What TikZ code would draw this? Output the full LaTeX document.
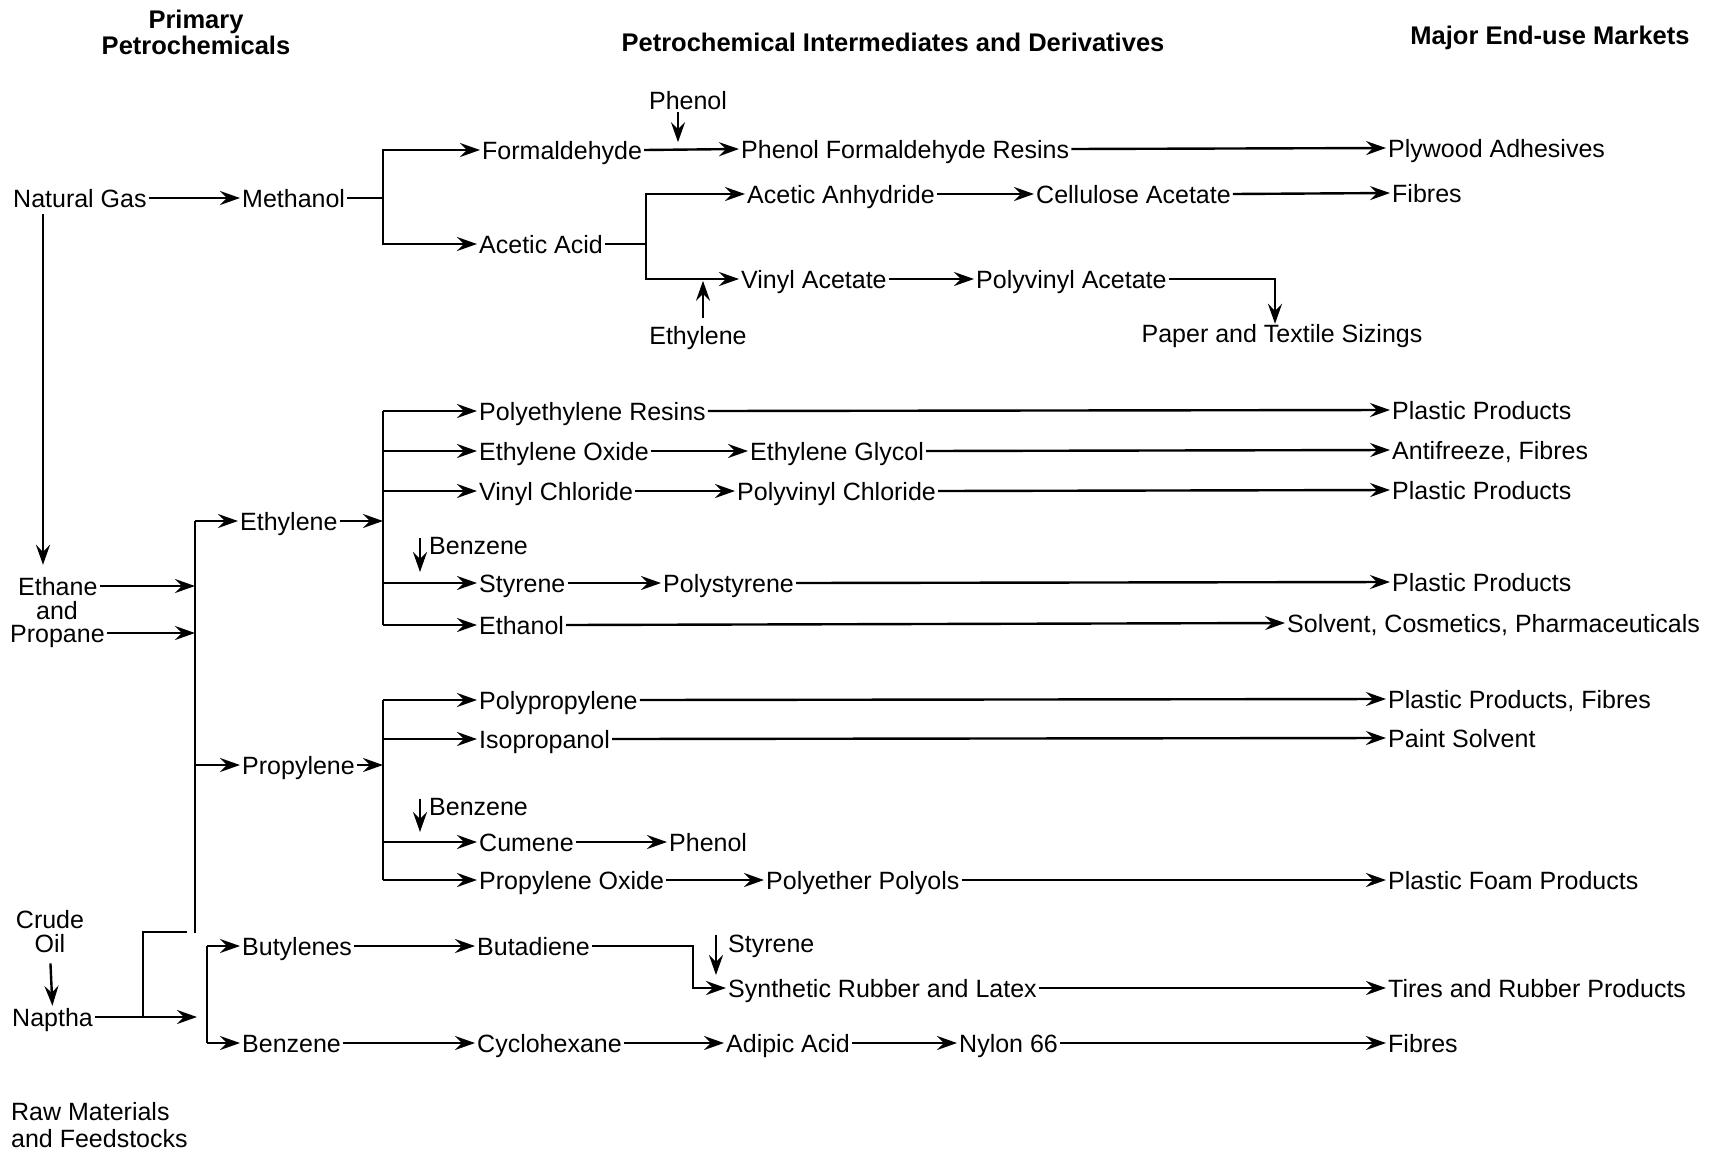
\documentclass[tikz,border=0pt]{standalone}
\usepackage{fontspec}
\setmainfont{Liberation Sans}
\usetikzlibrary{arrows.meta}
\newcommand\fsz{\fontsize{25}{24}\selectfont}
\newcommand\hsz{\fontsize{25.5}{26}\selectfont\bfseries}
\begin{document}
\begin{tikzpicture}[x=1pt,y=-1pt,
  lbl/.style={font=\fsz, anchor=west, inner xsep=2pt, inner ysep=0pt, text height=18pt, text depth=0pt},
  clbl/.style={font=\fsz, anchor=center, inner xsep=2pt, inner ysep=0pt, text height=18pt, text depth=0pt},
  mlbl/.style={font=\fsz, inner sep=0pt, align=center},
  hdr/.style={font=\hsz, inner sep=0pt, align=center},
  ln/.style={line width=2.4pt},
  arr/.style={line width=2.4pt, -{Stealth[length=20pt,width=14pt,inset=7pt]}},
]
\useasboundingbox (0,0) rectangle (1725,1152);

% headers
\node[hdr] (h1) at (196,32) {Primary\\Petrochemicals};
\node[hdr] (h2) at (893,42) {Petrochemical Intermediates and Derivatives};
\node[hdr] (h3) at (1550,38) {Major End-use Markets};

% methanol branch
\node[lbl] (natgas) at (11,198) {Natural Gas};
\node[lbl] (methanol) at (240,198) {Methanol};
\node[lbl] (form) at (480,150) {Formaldehyde};
\node[lbl] (acetic) at (477,244) {Acetic Acid};
\node[clbl] (phenolA) at (688,100) {Phenol};
\node[lbl] (pfr) at (739,149) {Phenol Formaldehyde Resins};
\node[lbl] (plywood) at (1386,148) {Plywood Adhesives};
\node[lbl] (anhyd) at (745,194) {Acetic Anhydride};
\node[lbl] (cellac) at (1034,194) {Cellulose Acetate};
\node[lbl] (fibresA) at (1390,193) {Fibres};
\node[lbl] (vinylac) at (739,279) {Vinyl Acetate};
\node[clbl] (ethyA) at (698,335) {Ethylene};
\node[lbl] (pva) at (974,279) {Polyvinyl Acetate};
\node[clbl] (sizing) at (1282,333) {Paper and Textile Sizings};

% raw materials
\node[lbl] (ethane) at (16,586) {Ethane};
\node[clbl] (andn) at (57,610) {and};
\node[lbl] (propane) at (8,633) {Propane};
\node[mlbl] (crude) at (50,932) {Crude\\Oil};
\node[lbl] (naptha) at (10,1017) {Naptha};
\node[font=\fontsize{25}{27}\selectfont, inner sep=0pt, align=left, anchor=west] (raw) at (11,1125) {Raw Materials\\and Feedstocks};

% ethylene branch
\node[lbl] (ethylene) at (238,521) {Ethylene};
\node[lbl] (pe) at (477,411) {Polyethylene Resins};
\node[lbl] (plasA) at (1390,410) {Plastic Products};
\node[lbl] (eo) at (477,451) {Ethylene Oxide};
\node[lbl] (eg) at (748,451) {Ethylene Glycol};
\node[lbl] (anti) at (1390,450) {Antifreeze, Fibres};
\node[lbl] (vc) at (477,491) {Vinyl Chloride};
\node[lbl] (pvc) at (735,491) {Polyvinyl Chloride};
\node[lbl] (plasB) at (1390,490) {Plastic Products};
\node[lbl] (benzA) at (427,545) {Benzene};
\node[lbl] (styrene) at (477,583) {Styrene};
\node[lbl] (ps) at (661,583) {Polystyrene};
\node[lbl] (plasC) at (1390,582) {Plastic Products};
\node[lbl] (ethanol) at (477,625) {Ethanol};
\node[lbl] (solvent) at (1285,623) {Solvent, Cosmetics, Pharmaceuticals};

% propylene branch
\node[lbl] (propylene) at (240,765) {Propylene};
\node[lbl] (pp) at (477,700) {Polypropylene};
\node[lbl] (ppf) at (1386,699) {Plastic Products, Fibres};
\node[lbl] (ipa) at (477,739) {Isopropanol};
\node[lbl] (paint) at (1386,738) {Paint Solvent};
\node[lbl] (benzB) at (427,806) {Benzene};
\node[lbl] (cumene) at (477,842) {Cumene};
\node[lbl] (phenolB) at (667,842) {Phenol};
\node[lbl] (po) at (477,880) {Propylene Oxide};
\node[lbl] (ppol) at (764,880) {Polyether Polyols};
\node[lbl] (foam) at (1386,880) {Plastic Foam Products};

% butylenes / benzene branch
\node[lbl] (butyl) at (240,946) {Butylenes};
\node[lbl] (benzC) at (240,1043) {Benzene};
\node[lbl] (butad) at (475,946) {Butadiene};
\node[lbl] (styB) at (726,943) {Styrene};
\node[lbl] (synrub) at (726,988) {Synthetic Rubber and Latex};
\node[lbl] (tires) at (1386,988) {Tires and Rubber Products};
\node[lbl] (cyclo) at (475,1043) {Cyclohexane};
\node[lbl] (adipic) at (724,1043) {Adipic Acid};
\node[lbl] (nylon) at (957,1043) {Nylon 66};
\node[lbl] (fibresB) at (1386,1043) {Fibres};

% ---- connectors: methanol branch
\draw[arr] (natgas.east) -- (methanol.west);
\coordinate (mb) at (383,198);
\draw[ln] (methanol.east) -- (mb);
\draw[arr] (mb) |- (form.west);
\draw[arr] (mb) |- (acetic.west);
\draw[arr] (form.east) -- (pfr.west);
\draw[arr] ([xshift=-10pt,yshift=-3pt]phenolA.south) -- ++(0,30);
\draw[arr] (pfr.east) -- (plywood.west);
\coordinate (ab) at (646,244);
\draw[ln] (acetic.east) -- (ab);
\draw[arr] (ab) |- (anhyd.west);
\draw[arr] (ab) |- (vinylac.west);
\draw[arr] ([xshift=5pt,yshift=8pt]ethyA.north) -- ++(0,-37);
\draw[arr] (anhyd.east) -- (cellac.west);
\draw[arr] (cellac.east) -- (fibresA.west);
\draw[arr] (vinylac.east) -- (pva.west);
\coordinate (pvx) at (1275,279);
\draw[arr] (pva.east) -- (pvx) -- (pvx |- sizing.north);

% ---- raw materials to primary
\coordinate (ngx) at (43,0);
\draw[arr, shorten <=7pt, shorten >=12pt] (natgas.south -| ngx) -- (ethane.north -| ngx);
\coordinate (mainTop) at (195,521);
\coordinate (mainBot) at (195,933);
\draw[ln] (mainTop) -- (mainBot);
\draw[arr] (ethane.east) -- (ethane.east -| mainTop);
\draw[arr] (propane.east) -- (propane.east -| mainTop);
\draw[arr] (mainTop) -- (ethylene.west);
\draw[arr] (mainTop |- propylene.west) -- (propylene.west);
\draw[arr, shorten <=10pt, shorten >=2pt] (crude.south) -- (naptha.north);
\coordinate (nj) at (143,1017);
\coordinate (njt) at (187,932);
\draw[ln] (naptha.east) -- (nj) |- (njt);
\coordinate (bb) at (207,1017);
\draw[arr, shorten >=10pt] (nj) -- (bb);
\draw[ln] (bb |- butyl.west) -- (bb |- benzC.west);
\draw[arr] (bb |- butyl.west) -- (butyl.west);
\draw[arr] (bb |- benzC.west) -- (benzC.west);

% ---- ethylene branch
\coordinate (eb) at (383,521);
\draw[arr] (ethylene.east) -- (eb);
\draw[ln] (eb |- pe.west) -- (eb |- ethanol.west);
\draw[arr] (eb |- pe.west) -- (pe.west);
\draw[arr] (eb |- eo.west) -- (eo.west);
\draw[arr] (eb |- vc.west) -- (vc.west);
\draw[arr] (eb |- styrene.west) -- (styrene.west);
\draw[arr] (eb |- ethanol.west) -- (ethanol.west);
\draw[arr, shorten >=11pt] ([xshift=-7pt,yshift=7pt]benzA.west) -- ([xshift=-7pt]benzA.west |- styrene.west);
\draw[arr] (pe.east) -- (plasA.west);
\draw[arr] (eo.east) -- (eg.west);
\draw[arr] (eg.east) -- (anti.west);
\draw[arr] (vc.east) -- (pvc.west);
\draw[arr] (pvc.east) -- (plasB.west);
\draw[arr] (styrene.east) -- (ps.west);
\draw[arr] (ps.east) -- (plasC.west);
\draw[arr] (ethanol.east) -- (solvent.west);

% ---- propylene branch
\coordinate (pb) at (383,765);
\draw[arr] (propylene.east) -- (pb);
\draw[ln] (pb |- pp.west) -- (pb |- po.west);
\draw[arr] (pb |- pp.west) -- (pp.west);
\draw[arr] (pb |- ipa.west) -- (ipa.west);
\draw[arr] (pb |- cumene.west) -- (cumene.west);
\draw[arr] (pb |- po.west) -- (po.west);
\draw[arr, shorten >=10pt] ([xshift=-7pt,yshift=7pt]benzB.west) -- ([xshift=-7pt]benzB.west |- cumene.west);
\draw[arr] (pp.east) -- (ppf.west);
\draw[arr] (ipa.east) -- (paint.west);
\draw[arr] (cumene.east) -- (phenolB.west);
\draw[arr] (po.east) -- (ppol.west);
\draw[arr] (ppol.east) -- (foam.west);

% ---- butylenes / benzene branch
\draw[arr] (butyl.east) -- (butad.west);
\coordinate (bd) at (693,946);
\draw[arr] (butad.east) -- (bd) |- (synrub.west);
\draw[arr, shorten >=2pt] ([xshift=-10pt,yshift=8pt]styB.west) -- ++(0,42);
\draw[arr] (synrub.east) -- (tires.west);
\draw[arr] (benzC.east) -- (cyclo.west);
\draw[arr] (cyclo.east) -- (adipic.west);
\draw[arr] (adipic.east) -- (nylon.west);
\draw[arr] (nylon.east) -- (fibresB.west);
\end{tikzpicture}
\end{document}
